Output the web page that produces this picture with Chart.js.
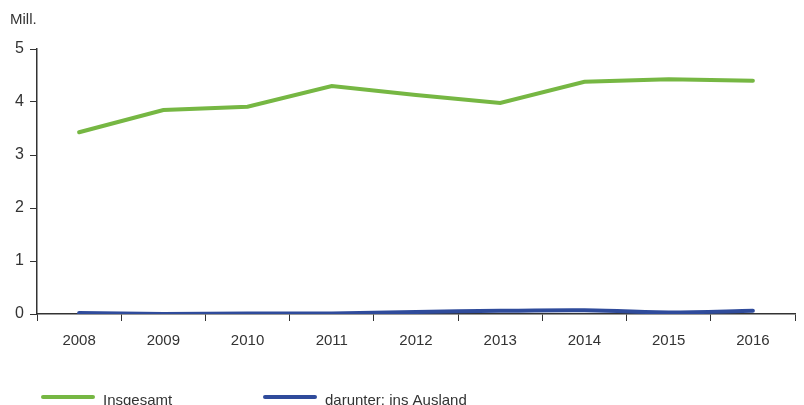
<!DOCTYPE html>
<html>
<head>
<meta charset="utf-8">
<script src="https://cdn.jsdelivr.net/npm/chart.js@4"></script>
<style>
  html, body { margin: 0; padding: 0; background: #fff; }
  #wrap { position: relative; width: 804px; height: 405px; }
</style>
</head>
<body>
<div id="wrap"><canvas id="myLineChart" width="804" height="405"></canvas></div>
<script>
const jahre = ["2008", "2009", "2010", "2011", "2012", "2013", "2014", "2015", "2016"];
const insgesamt = [3.43, 3.85, 3.91, 4.30, 4.13, 3.98, 4.38, 4.43, 4.40];
const insAusland = [0.02, 0.00, 0.01, 0.01, 0.04, 0.06, 0.07, 0.03, 0.06];
const einheit = "Mill.";

const schrift = "'Liberation Sans Narrow', 'Arial Narrow', 'Liberation Sans', Arial, sans-serif";
const achsenFarbe = "#333333";

// Beschriftung "Mill." und Legende unten selbst zeichnen
const extras = {
    id: "extras",
    afterDraw(chart) {
        const ctx = chart.ctx;
        ctx.save();
        ctx.font = "15px " + schrift;
        ctx.fillStyle = achsenFarbe;
        ctx.textBaseline = "alphabetic";
        ctx.fillText(einheit, 10, 24);

        const starts = [43, 265];
        chart.data.datasets.forEach((ds, i) => {
            const x = starts[i];
            ctx.strokeStyle = ds.borderColor;
            ctx.lineWidth = 4;
            ctx.lineCap = "round";
            ctx.beginPath();
            ctx.moveTo(x, 397);
            ctx.lineTo(x + 50, 397);
            ctx.stroke();
            ctx.fillStyle = achsenFarbe;
            ctx.font = "15px " + schrift;
            ctx.fillText(ds.label, x + 60, 405);
        });
        ctx.restore();
    }
};

const ctx = document.getElementById("myLineChart").getContext("2d");
new Chart(ctx, {
    type: "line",
    data: {
        labels: jahre,
        datasets: [
            {
                label: "Insgesamt",
                data: insgesamt,
                borderColor: "#76b743",
                backgroundColor: "#76b743",
                borderWidth: 4,
                pointRadius: 0,
                tension: 0,
                borderCapStyle: "round"
            },
            {
                label: "darunter: ins Ausland",
                data: insAusland,
                borderColor: "#2f4b9b",
                backgroundColor: "#2f4b9b",
                borderWidth: 4,
                pointRadius: 0,
                tension: 0.3,
                borderCapStyle: "round"
            }
        ]
    },
    options: {
        responsive: false,
        animation: false,
        layout: { padding: { top: 49, right: 9, left: 0, bottom: 0 } },
        plugins: {
            legend: { display: false },
            tooltip: { enabled: false }
        },
        scales: {
            x: {
                offset: true,
                grid: {
                    offset: true,
                    drawOnChartArea: false,
                    drawTicks: true,
                    tickLength: 7,
                    color: achsenFarbe,
                    lineWidth: 1
                },
                border: { color: achsenFarbe, width: 1.5 },
                ticks: {
                    color: achsenFarbe,
                    font: { family: schrift, size: 15 },
                    padding: 11,
                    maxRotation: 0
                },
                afterFit(scale) { scale.height = 405 - 314; }
            },
            y: {
                min: 0,
                max: 5,
                ticks: {
                    stepSize: 1,
                    color: achsenFarbe,
                    font: { family: schrift, size: 16 },
                    padding: 6
                },
                grid: {
                    drawOnChartArea: false,
                    drawTicks: true,
                    tickLength: 7,
                    color: achsenFarbe,
                    lineWidth: 1
                },
                border: { color: achsenFarbe, width: 1.5 },
                afterFit(scale) { scale.width = 37; }
            }
        }
    },
    plugins: [extras]
});
</script>
</body>
</html>
